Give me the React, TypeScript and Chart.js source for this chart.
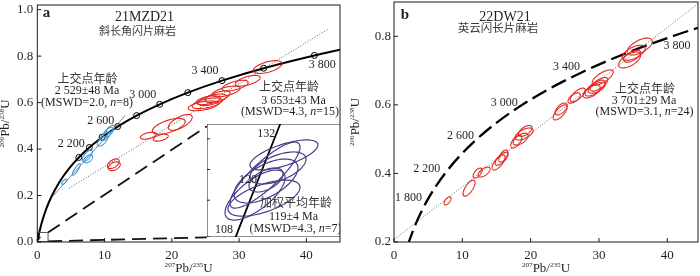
import React, { useEffect, useRef } from "react";
import { Chart, registerables } from "chart.js";

Chart.register(...registerables);

// ---------------- data ----------------
const concordiaAges = [0, 100, 200, 400, 600, 800, 1000, 1200, 1400, 1600, 1800, 2000, 2200, 2400, 2600, 2800, 3000, 3200, 3400, 3600, 3800, 3890];
const concordiaX = [0, 0.1035, 0.2177, 0.4828, 0.8057, 1.1987, 1.6774, 2.2604, 2.97, 3.834, 4.887, 6.169, 7.73, 9.63, 11.944, 14.762, 18.193, 22.37, 27.46, 33.65, 41.19, 45.1];
const concordiaY = [0, 0.0156, 0.0315, 0.064, 0.0975, 0.1321, 0.1678, 0.2046, 0.2426, 0.2817, 0.3221, 0.3638, 0.4067, 0.4511, 0.4968, 0.544, 0.5926, 0.6428, 0.6945, 0.7479, 0.803, 0.8283];
const markerAgesA = [2000, 2200, 2400, 2600, 2800, 3000, 3200, 3400, 3600, 3800];
const labelAgesA = [2200, 2600, 3000, 3400, 3800];
const labelAgesB = [1800, 2200, 2600, 3000, 3400, 3800];

const insetAges = [100, 108, 120, 132, 140];
const insetX = [0.1035, 0.11222, 0.12545, 0.13883, 0.14784];
const insetY = [0.015633, 0.016895, 0.018789, 0.020688, 0.021955];
const insetLabelAges = [108, 120, 132];

// ellipses: [centre x, centre y, half-width x, half-height y, rho]
const redEllipsesA = [
  [34.25, 0.753, 2.15, 0.0275, 0.55],
  [31.28, 0.694, 1.86, 0.023, 0.6],
  [29.42, 0.673, 1.93, 0.023, 0.6],
  [28.08, 0.648, 2.08, 0.023, 0.6],
  [26.82, 0.625, 1.86, 0.025, 0.6],
  [26.0, 0.612, 2.08, 0.025, 0.6],
  [25.26, 0.597, 2.23, 0.023, 0.55],
  [24.67, 0.586, 2.23, 0.021, 0.5],
  [25.4, 0.61, 1.78, 0.019, 0.5],
  [21.25, 0.515, 1.78, 0.034, 0.65],
  [19.54, 0.498, 2.45, 0.034, 0.6],
  [16.5, 0.4575, 1.19, 0.015, 0.5],
  [18.35, 0.449, 1.11, 0.015, 0.5],
  [11.3, 0.337, 0.89, 0.021, 0.5],
  [11.44, 0.326, 0.89, 0.019, 0.4],
];
const blueEllipsesA = [
  [4.0, 0.259, 0.37, 0.011, 0.7],
  [5.8, 0.312, 0.59, 0.025, 0.85],
  [7.43, 0.371, 0.74, 0.025, 0.7],
  [7.58, 0.358, 0.67, 0.017, 0.5],
  [9.66, 0.434, 0.74, 0.021, 0.6],
  [10.1, 0.455, 0.74, 0.019, 0.6],
  [10.55, 0.472, 0.74, 0.021, 0.6],
  [10.85, 0.485, 0.6, 0.017, 0.6],
];
const purpleEllipses = [
  [0.1435, 0.01977, 0.02366, 0.000587, 0.67],
  [0.1303, 0.01898, 0.02436, 0.00129, 0.85],
  [0.1234, 0.0182, 0.0209, 0.000978, 0.7],
  [0.131, 0.01875, 0.02227, 0.00086, 0.6],
  [0.131, 0.01879, 0.01183, 0.00047, 0.5],
  [0.1296, 0.01808, 0.02506, 0.000704, 0.6],
  [0.1394, 0.01926, 0.01949, 0.000626, 0.55],
];
const redEllipsesB = [
  [35.97, 0.77, 1.83, 0.0248, 0.6],
  [35.09, 0.752, 1.69, 0.0219, 0.6],
  [34.5, 0.731, 1.61, 0.0233, 0.6],
  [34.85, 0.742, 1.25, 0.0175, 0.6],
  [30.55, 0.68, 1.54, 0.0219, 0.7],
  [29.45, 0.649, 1.47, 0.0233, 0.7],
  [28.93, 0.639, 1.25, 0.019, 0.6],
  [29.67, 0.65, 1.25, 0.016, 0.6],
  [26.89, 0.629, 1.1, 0.02, 0.7],
  [26.37, 0.62, 0.9, 0.015, 0.6],
  [24.32, 0.578, 1.03, 0.022, 0.7],
  [19.05, 0.515, 1.32, 0.0175, 0.6],
  [18.54, 0.5, 1.1, 0.0175, 0.6],
  [17.9, 0.493, 0.8, 0.019, 0.6],
  [15.75, 0.443, 0.95, 0.019, 0.7],
  [15.31, 0.432, 0.95, 0.022, 0.7],
  [16.0, 0.451, 0.66, 0.0175, 0.6],
  [13.19, 0.404, 0.88, 0.0146, 0.6],
  [12.24, 0.401, 0.66, 0.0146, 0.6],
  [10.99, 0.357, 0.88, 0.0233, 0.7],
  [7.84, 0.32, 0.51, 0.0117, 0.6],
  [24.47, 0.588, 0.88, 0.0175, 0.6],
  [30.0, 0.66, 1.3, 0.02, 0.7],
  [19.2, 0.524, 1.0, 0.016, 0.6],
];

const discordiaRedA = [[4.71, 0.231], [43.2, 0.916]];
const discordiaBlueA = [[2.18, 0.193], [13.05, 0.544]];
const discordiaB = [[0, 0.207], [44.5, 0.895]];
const zoomBoxA = [[0, 0.002], [1.6, 0.002], [1.6, 0.041], [0, 0.041], [0, 0.002]];
const connectorUpper = [[1.6, 0.041], [25.2, 0.498]];
const connectorLower = [[1.6, 0.003], [25.2, 0.02]];
const insetDotA = [[0.13, 0.019]];

// ---------------- styling helpers ----------------
const SERIF = '"Liberation Serif", "DejaVu Serif", "Noto Sans CJK SC", serif';
const TEXT = "#231f20";
const CJK_TEXT = "#3a3a3a";
const RED = "#e3251f";
const BLUE = "#3b9ad8";
const PURPLE = "#4a3a88";

type Seg = { t: string; it?: boolean; sup?: boolean };
function parseRich(s: string): Seg[] {
  return s
    .split(/(\*[^*]+\*|\^[^^]+\^)/)
    .filter((p) => p.length)
    .map((p) =>
      p.startsWith("*") ? { t: p.slice(1, -1), it: true } : p.startsWith("^") ? { t: p.slice(1, -1), sup: true } : { t: p }
    );
}
function fontFor(sg: Seg, size: number, bold?: boolean) {
  const s = sg.sup ? size * 0.55 : size;
  return `${sg.it ? "italic " : ""}${bold ? "bold " : ""}${s}px ${SERIF}`;
}
function drawRich(ctx: CanvasRenderingContext2D, str: string, x: number, y: number, size: number, opts: any = {}) {
  const segs = parseRich(str);
  ctx.save();
  ctx.textBaseline = "middle";
  ctx.textAlign = "left";
  let w = 0;
  const widths = segs.map((sg) => {
    ctx.font = fontFor(sg, size, opts.bold);
    const m = ctx.measureText(sg.t).width;
    w += m;
    return m;
  });
  let cx = opts.align === "right" ? x - w : opts.align === "left" ? x : x - w / 2;
  ctx.fillStyle = opts.color || (/[\u4e00-\u9fff]/.test(str) ? CJK_TEXT : TEXT);
  segs.forEach((sg, i) => {
    ctx.font = fontFor(sg, size, opts.bold);
    ctx.fillText(sg.t, cx, sg.sup ? y - size * 0.33 : y);
    cx += widths[i];
  });
  ctx.restore();
}

function drawEllipses(chart: any, list: number[][], color: string, width: number) {
  const { ctx, chartArea } = chart;
  const xs = chart.scales.x;
  const ys = chart.scales.y;
  ctx.save();
  ctx.beginPath();
  ctx.rect(chartArea.left, chartArea.top, chartArea.right - chartArea.left, chartArea.bottom - chartArea.top);
  ctx.clip();
  ctx.strokeStyle = color;
  ctx.lineWidth = width;
  list.forEach(([cx, cy, sx, sy, r]) => {
    const q = Math.sqrt(1 - r * r);
    ctx.beginPath();
    for (let i = 0; i <= 90; i++) {
      const a = (i / 90) * Math.PI * 2;
      const px = xs.getPixelForValue(cx + sx * Math.cos(a));
      const py = ys.getPixelForValue(cy + sy * (r * Math.cos(a) + q * Math.sin(a)));
      if (i === 0) ctx.moveTo(px, py);
      else ctx.lineTo(px, py);
    }
    ctx.closePath();
    ctx.stroke();
  });
  ctx.restore();
}

function pts(arr: number[][]) {
  return arr.map(([x, y]) => ({ x, y }));
}
function concPoint(age: number) {
  const i = concordiaAges.indexOf(age);
  return { x: concordiaX[i], y: concordiaY[i] };
}
function insetPoint(age: number) {
  const i = insetAges.indexOf(age);
  return { x: insetX[i], y: insetY[i] };
}

// decoration plugin factory
function makeDecor(spec: any) {
  return {
    id: "decor",
    beforeDraw(chart: any) {
      const { ctx, width, height } = chart;
      ctx.save();
      ctx.fillStyle = "#fff";
      ctx.fillRect(0, 0, width, height);
      ctx.restore();
    },
    afterDatasetsDraw(chart: any) {
      const { ctx, chartArea } = chart;
      const xs = chart.scales.x;
      const ys = chart.scales.y;
      (spec.ellipses || []).forEach((e: any) => drawEllipses(chart, e.list, e.color, e.width));
      // frame
      ctx.save();
      ctx.strokeStyle = "#1a1a1a";
      ctx.lineWidth = spec.frameWidth || 1;
      ctx.strokeRect(chartArea.left, chartArea.top, chartArea.right - chartArea.left, chartArea.bottom - chartArea.top);
      // inward ticks
      const tl = spec.tickLen || 4;
      ctx.beginPath();
      if (spec.xTicks !== false) {
        xs.ticks.forEach((t: any) => {
          const px = xs.getPixelForValue(t.value);
          ctx.moveTo(px, chartArea.bottom);
          ctx.lineTo(px, chartArea.bottom - tl);
        });
      }
      ys.ticks.forEach((t: any) => {
        const py = ys.getPixelForValue(t.value);
        ctx.moveTo(chartArea.left, py);
        ctx.lineTo(chartArea.left + tl, py);
      });
      ctx.stroke();
      ctx.restore();
      // age labels along concordia
      (spec.ageLabels || []).forEach((l: any) => {
        const p = l.point;
        const px = xs.getPixelForValue(p.x) + l.dx;
        const py = ys.getPixelForValue(p.y) + l.dy;
        drawRich(ctx, l.text, px, py, l.size || 12, { align: l.align || "center" });
      });
      // free texts
      (spec.texts || []).forEach((t: any) => drawRich(ctx, t.text, t.x, t.y, t.size || 12, { bold: t.bold }));
      // axis titles
      if (spec.xTitle) {
        drawRich(ctx, spec.xTitle, (chartArea.left + chartArea.right) / 2, spec.xTitleY, 13);
      }
      if (spec.yTitle) {
        ctx.save();
        ctx.translate(spec.yTitleX, (chartArea.top + chartArea.bottom) / 2);
        ctx.rotate(-Math.PI / 2);
        drawRich(ctx, spec.yTitle, 0, 0, 13);
        ctx.restore();
      }
    },
  };
}

const fmtAge = (a: number) => (a >= 1000 ? `${Math.floor(a / 1000)} ${String(a % 1000).padStart(3, "0")}` : String(a));

function lineDs(data: any[], color: string, width: number, dash: number[] = [], extra: any = {}) {
  return {
    data,
    showLine: true,
    borderColor: color,
    borderWidth: width,
    borderDash: dash,
    pointRadius: 0,
    fill: false,
    ...extra,
  };
}

function baseScales(xmin: number, xmax: number, ymin: number, ymax: number, yWidth: number, xPad: number, yPad: number) {
  return {
    x: {
      type: "linear",
      min: xmin,
      max: xmax,
      grid: { display: false, drawTicks: false },
      border: { display: false },
      ticks: {
        stepSize: 10,
        includeBounds: false,
        autoSkip: false,
        color: TEXT,
        padding: xPad,
        font: { family: SERIF, size: 13 },
      },
      afterFit: (s: any) => {
        s.height = 34;
        s.paddingLeft = 0;
        s.paddingRight = 0;
      },
    },
    y: {
      type: "linear",
      min: ymin,
      max: ymax,
      grid: { display: false, drawTicks: false },
      border: { display: false },
      ticks: {
        stepSize: 0.2,
        includeBounds: false,
        autoSkip: false,
        color: TEXT,
        padding: yPad,
        font: { family: SERIF, size: 13 },
        callback: (v: any) => Number(v).toFixed(1),
      },
      afterFit: (s: any) => {
        s.width = yWidth;
        s.paddingTop = 0;
        s.paddingBottom = 0;
      },
    },
  };
}

const commonOpts = {
  responsive: true,
  maintainAspectRatio: false,
  animation: false,
  events: [],
  plugins: { legend: { display: false }, tooltip: { enabled: false } },
};

function cfgA(): any {
  const concordia = concordiaX.map((x, i) => ({ x, y: concordiaY[i] }));
  const markerOffsets: Record<number, number[]> = {
    2200: [-18, -4],
    2600: [-17, -6],
    3000: [-17, -9.5],
    3400: [-17, -9.5],
    3800: [8, 9],
  };
  return {
    type: "scatter",
    data: {
      datasets: [
        lineDs(pts(zoomBoxA), "#555", 1),
        lineDs(pts(connectorUpper), "#111", 1.8, [14, 7]),
        lineDs(pts(connectorLower), "#111", 1.8, [14, 7]),
        lineDs(pts(discordiaRedA), "#444", 0.9, [1, 1.8]),
        lineDs(pts(discordiaBlueA), "#666", 0.8),
        lineDs(concordia, "#000", 2, [], { cubicInterpolationMode: "monotone" }),
        {
          data: markerAgesA.map(concPoint),
          pointRadius: 3,
          pointBackgroundColor: "#fff",
          pointBorderColor: "#000",
          pointBorderWidth: 1,
          showLine: false,
        },
        { data: pts(insetDotA), pointRadius: 2, pointBackgroundColor: PURPLE, pointBorderColor: PURPLE, showLine: false },
      ],
    },
    options: {
      ...commonOpts,
      layout: { padding: { left: 0, right: 10, top: 1, bottom: 0 } },
      scales: baseScales(0, 45, 0, 1.02, 37.3, 6, 4),
    },
    plugins: [
      makeDecor({
        ellipses: [
          { list: redEllipsesA, color: RED, width: 1.1 },
          { list: blueEllipsesA, color: BLUE, width: 1.1 },
        ],
        ageLabels: labelAgesA.map((a) => ({
          point: concPoint(a),
          text: fmtAge(a),
          dx: markerOffsets[a][0],
          dy: markerOffsets[a][1],
        })),
        texts: [
          { text: "a", x: 46.5, y: 13.5, size: 15, bold: true },
          { text: "21MZD21", x: 144.5, y: 17.5, size: 14 },
          { text: "斜长角闪片麻岩", x: 137.5, y: 32, size: 11 },
          { text: "上交点年龄", x: 87.5, y: 80, size: 12 },
          { text: "2 529±48 Ma", x: 87, y: 91, size: 12 },
          { text: "(MSWD=2.0, *n*=8)", x: 87, y: 102.5, size: 12 },
          { text: "上交点年龄", x: 289, y: 88, size: 12 },
          { text: "3 653±43 Ma", x: 293.5, y: 100.5, size: 12 },
          { text: "(MSWD=4.3, *n*=15)", x: 290, y: 111.5, size: 12 },
        ],
        xTitle: "^207^Pb/^235^U",
        xTitleY: 269,
        yTitle: "^206^Pb/^238^U",
        yTitleX: 6,
      }),
    ],
  };
}

function cfgB(): any {
  const concordia = concordiaX.map((x, i) => ({ x, y: concordiaY[i] }));
  const offsets: Record<number, number[]> = {
    1800: [-19, -2],
    2200: [-20, -2],
    2600: [-15, -4],
    3000: [-14, -5],
    3400: [-15, -6],
    3800: [1.5, 11],
  };
  return {
    type: "scatter",
    data: {
      datasets: [
        lineDs(pts(discordiaB), "#555", 0.9, [1, 1.8]),
        lineDs(concordia, "#000", 2.3, [16, 6], { cubicInterpolationMode: "monotone" }),
      ],
    },
    options: {
      ...commonOpts,
      layout: { padding: { left: 0, right: 2, top: 2, bottom: 0 } },
      scales: baseScales(0, 44.5, 0.2, 0.9, 44, 6, 3),
    },
    plugins: [
      makeDecor({
        ellipses: [{ list: redEllipsesB, color: RED, width: 1.1 }],
        ageLabels: labelAgesB.map((a) => ({
          point: concPoint(a),
          text: fmtAge(a),
          dx: offsets[a][0],
          dy: offsets[a][1],
        })),
        texts: [
          { text: "b", x: 55, y: 15, size: 15, bold: true },
          { text: "22DW21", x: 155, y: 17.5, size: 14 },
          { text: "英云闪长片麻岩", x: 148, y: 29, size: 11.5 },
          { text: "上交点年龄", x: 295, y: 90, size: 12 },
          { text: "3 701±29 Ma", x: 294, y: 100.5, size: 12 },
          { text: "(MSWD=3.1, *n*=24)", x: 294.5, y: 112, size: 12 },
        ],
        xTitle: "^207^Pb/^235^U",
        xTitleY: 269,
        yTitle: "^206^Pb/^238^U",
        yTitleX: 6,
      }),
    ],
  };
}

function cfgInset(): any {
  const conc = insetX.map((x, i) => ({ x, y: insetY[i] }));
  const offsets: Record<number, number[]> = { 108: [-6, 1.6], 120: [-1, 0], 132: [-2, 2] };
  return {
    type: "scatter",
    data: { datasets: [lineDs(conc, "#000", 1.8)] },
    options: {
      ...commonOpts,
      layout: { padding: 0 },
      scales: {
        x: { type: "linear", min: 0.08995, max: 0.1825, display: false, ticks: { stepSize: 0.01 } },
        y: { type: "linear", min: 0.01656, max: 0.02098, display: false, ticks: { stepSize: 0.0006 } },
      },
    },
    plugins: [
      makeDecor({
        ellipses: [{ list: purpleEllipses, color: PURPLE, width: 1.2 }],
        xTicks: false,
        tickLen: 3,
        ageLabels: insetLabelAges.map((a) => ({
          point: insetPoint(a),
          text: String(a),
          dx: offsets[a][0],
          dy: offsets[a][1],
          align: "right",
        })),
        texts: [
          { text: "加权平均年龄", x: 89, y: 80, size: 12 },
          { text: "119±4 Ma", x: 86.5, y: 93, size: 12 },
          { text: "(MSWD=4.3, *n*=7)", x: 88.5, y: 105, size: 12 },
        ],
      }),
    ],
  };
}

export default function App() {
  const aRef = useRef<HTMLCanvasElement>(null);
  const bRef = useRef<HTMLCanvasElement>(null);
  const iRef = useRef<HTMLCanvasElement>(null);
  useEffect(() => {
    const charts = [
      new Chart(aRef.current as HTMLCanvasElement, cfgA()),
      new Chart(bRef.current as HTMLCanvasElement, cfgB()),
      new Chart(iRef.current as HTMLCanvasElement, cfgInset()),
    ];
    return () => charts.forEach((c) => c.destroy());
  }, []);
  return (
    <div style={{ position: "absolute", left: 0, top: 0, width: 700, height: 276, background: "#fff", overflow: "hidden" }}>
      <div style={{ position: "absolute", left: 0, top: 0, width: 350, height: 276 }}>
        <canvas ref={aRef} />
      </div>
      <div style={{ position: "absolute", left: 350, top: 0, width: 350, height: 276 }}>
        <canvas ref={bRef} />
      </div>
      <div style={{ position: "absolute", left: 207, top: 124, width: 133, height: 113 }}>
        <canvas ref={iRef} />
      </div>
    </div>
  );
}
